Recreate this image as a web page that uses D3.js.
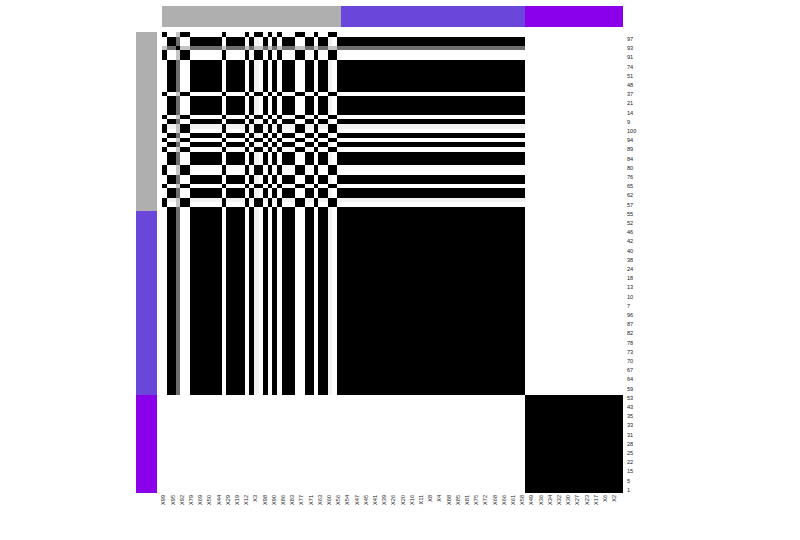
<!DOCTYPE html>
<html><head><meta charset="utf-8">
<script src="https://cdn.jsdelivr.net/npm/d3@7/dist/d3.min.js"></script>
<style>
body{margin:0;background:#fff}
svg{display:block}
text{font-family:"Liberation Sans",Arial,Helvetica,sans-serif}
</style>
</head><body>
<svg id="chart" width="800" height="540"></svg>
<script>
// ---- data ----
// cluster annotation (same order for rows and columns)
const groupNames  = ["1", "2", "3"];
const groupSizes  = [39, 40, 21];
const groupColors = ["#afafaf", "#6a46db", "#8a00ea"];

// consensus profile of each ordered sample (rows and columns share the order)
const profileGrey   = "ABBGAABBBBBBBABBBBABFABABABBBAABBABBFAB";
const profilePurple = "BBBBBBBBBBBBBBBBBBBBBBBBBBBBBBBBBBBBBBBB";
const profileViolet = "CCCCCCCCCCCCCCCCCCCCC";

// consensus value between two profiles (0 = never together, 1 = always)
const pairValue = {
  AA: 1, AB: 0, AG: 0.23, AF: 1, AC: 0,
  BB: 1, BG: 0.57, BF: 0.05, BC: 0,
  GG: 1, GF: 0.23, GC: 0,
  FF: 1, FC: 0,
  CC: 1
};

// labels that are printed (every second row / column)
const rowLabels = ["97","93","91","74","51","48","37","21","14","9","100","94","89","84","80","76","65","62","57",
  "55","52","46","42","40","38","24","18","13","10","7","96","87","82","78","73","70","67","64","59",
  "53","43","35","33","31","28","25","22","15","5","1"];
const colLabels = ["X99","X95","X92","X79","X69","X50","X44","X29","X19","X12","X3","X98","X90","X86","X83","X77","X71","X63","X60","X56",
  "X54","X47","X45","X41","X39","X26","X20","X16","X11","X8","X4","X88","X85","X81","X75","X72","X68","X66","X61","X58",
  "X49","X36","X34","X32","X30","X27","X23","X17","X6","X2"];

// ---- build ----
const profiles = (profileGrey + profilePurple + profileViolet).split("");
const nSamples = profiles.length;
const groupOf = [];
groupSizes.forEach((s, g) => { for (let k = 0; k < s; k++) groupOf.push(g); });

function pairVal(a, b) {
  return pairValue[a + b] !== undefined ? pairValue[a + b] : pairValue[b + a];
}

const cells = [];
for (let i = 0; i < nSamples; i++) for (let j = 0; j < nSamples; j++) {
  cells.push({ r: i, c: j, v: pairVal(profiles[i], profiles[j]) });
}

const svg = d3.select("#chart");
const hmLeft = 162, hmTop = 32, hmSize = 460;
const xs = d3.scaleBand().domain(d3.range(nSamples)).range([hmLeft, hmLeft + hmSize]);
const ys = d3.scaleBand().domain(d3.range(nSamples)).range([hmTop, hmTop + hmSize]);
const color = d3.scaleLinear().domain([0, 1]).range(["#ffffff", "#000000"]);
const gcol = d3.scaleOrdinal().domain(d3.range(groupNames.length)).range(groupColors);

svg.append("g").attr("shape-rendering", "crispEdges")
  .selectAll("rect").data(cells).join("rect")
  .attr("x", d => xs(d.c)).attr("y", d => ys(d.r))
  .attr("width", xs.bandwidth() + 0.5).attr("height", ys.bandwidth() + 0.5)
  .attr("fill", d => color(d.v));

// annotation bars
const idx = d3.range(nSamples);
svg.append("g").attr("shape-rendering", "crispEdges")
  .selectAll("rect").data(idx).join("rect")
  .attr("x", d => xs(d)).attr("y", 6)
  .attr("width", xs.bandwidth() + 0.5).attr("height", 21)
  .attr("fill", d => gcol(groupOf[d]));
svg.append("g").attr("shape-rendering", "crispEdges")
  .selectAll("rect").data(idx).join("rect")
  .attr("x", 136).attr("y", d => ys(d))
  .attr("width", 21).attr("height", ys.bandwidth() + 0.5)
  .attr("fill", d => gcol(groupOf[d]));

// row labels (odd rows)
svg.append("g").selectAll("text").data(rowLabels).join("text")
  .attr("x", hmLeft + hmSize + 5)
  .attr("y", (d, k) => ys(2 * k + 1) + ys.bandwidth() / 2)
  .attr("dominant-baseline", "central")
  .attr("font-size", 5.6).attr("fill", "#222")
  .text(d => d);

// column labels (even columns)
svg.append("g").selectAll("text").data(colLabels).join("text")
  .attr("transform", (d, k) => `translate(${xs(2 * k) + xs.bandwidth() / 2 - 1},${hmTop + hmSize + 3}) rotate(-90)`)
  .attr("text-anchor", "end")
  .attr("dominant-baseline", "central")
  .attr("font-size", 5.6).attr("fill", "#222")
  .text(d => d);
</script>
</body></html>
